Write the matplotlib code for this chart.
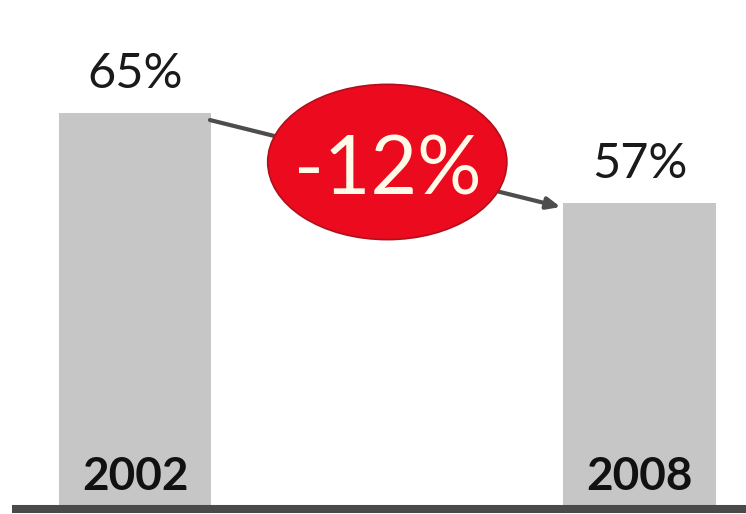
import matplotlib.pyplot as plt
from matplotlib.patches import Ellipse
from matplotlib.lines import Line2D

years = ["2002", "2008"]
shares = [65, 57]
change_label = "-12%"

plt.rcParams['font.family'] = ['Lato', 'DejaVu Sans']

fig = plt.figure(figsize=(7.46, 5.14), dpi=100)
ax = fig.add_axes([0, 9 / 514, 1, 505 / 514])

base = 30.16  # bars don't start at zero in the original
x = [0, 1]
w = 0.303
ax.bar(x, shares, width=w, color="#c6c6c6", zorder=1)
ax.set_xlim(-0.2676, 1.211)
ax.set_ylim(base, base + 505 / 11.25)
ax.axis("off")

for xi, v, yr in zip(x, shares, years):
    ax.text(xi, v + 2.25, f"{v}%", ha="center", va="baseline",
            fontsize=35, color="#1a1a1a", zorder=5)
    ax.text(xi, base + 1.35, yr, ha="center", va="baseline",
            fontsize=33, fontweight="bold", color="#111111", zorder=5)

# arrow between bar tops
ax.annotate("", xy=(x[1] - w / 2 - 0.005, shares[1] - 0.35),
            xytext=(x[0] + w / 2 - 0.003, shares[0] - 0.62),
            arrowprops=dict(arrowstyle="-|>,head_length=0.8,head_width=0.35",
                            color="#4d4d4d", lw=3, shrinkA=0, shrinkB=0),
            zorder=2)

mid_x = (x[0] + x[1]) / 2
mid_y = (shares[0] + shares[1]) / 2 - 0.35
ax.add_patch(Ellipse((mid_x, mid_y), 0.474, 13.8, facecolor="#ec0a1e",
                     edgecolor="#b0101a", lw=1.2, zorder=3))
ax.text(mid_x, mid_y - 2.9, change_label, ha="center", va="baseline",
        fontsize=58, color="#fffbe8", zorder=4)

fig.add_artist(Line2D([12 / 746, 1], [5 / 514, 5 / 514], color="#4a4a4a",
                      lw=5.8, solid_capstyle="butt"))

fig.savefig("out.png", dpi=100)
